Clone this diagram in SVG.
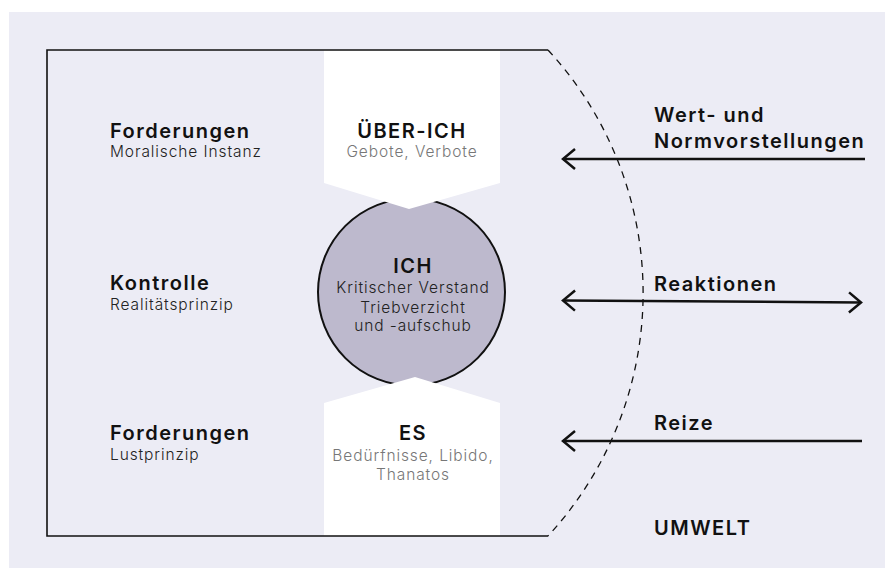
<svg xmlns="http://www.w3.org/2000/svg" width="885" height="568" viewBox="0 0 885 568">
  <style>
    .head { font-family: Inter, "Open Sans", "Liberation Sans", sans-serif; font-weight: 600; font-size: 20px; letter-spacing: 1.5px; fill: #111; }
    .sub { font-family: Inter, "Open Sans", "Liberation Sans", sans-serif; font-weight: 300; font-size: 15.5px; letter-spacing: 0.9px; fill: #222; }
    .grey { fill: #777; }
    .mid { text-anchor: middle; }
    .line { fill: none; stroke: #111; stroke-width: 2.5; }
  </style>
  <defs>
    <marker id="chev" viewBox="-14 -12 16 24" markerWidth="16" markerHeight="24" refX="0" refY="0" markerUnits="userSpaceOnUse" orient="auto-start-reverse">
      <path d="M-12,-10 L0,0 L-12,10" fill="none" stroke="#111" stroke-width="2.5"/>
    </marker>
  </defs>

  <!-- backdrop -->
  <rect x="9" y="12" width="876" height="556" fill="#ECECF5"/>

  <!-- ICH: central circle -->
  <g id="ich">
    <circle cx="411.5" cy="292" r="93.5" fill="#BDB9CD" stroke="#111" stroke-width="2"/>
  </g>

  <!-- UEBER-ICH: white pennant hanging from the top -->
  <g id="ueber-ich">
    <path d="M324,50 H500 V183 L409,209 L324,183 Z" fill="#fff"/>
    <text class="head mid" x="412" y="138">ÜBER-ICH</text>
    <text class="sub grey mid" x="412" y="157">Gebote, Verbote</text>
  </g>

  <!-- ES: white block rising from the bottom -->
  <g id="es">
    <path d="M324,403 L415,377 L500,403 V536 H324 Z" fill="#fff"/>
    <text class="head mid" x="413" y="440">ES</text>
    <text class="sub grey mid" x="413" y="461">Bedürfnisse, Libido,</text>
    <text class="sub grey mid" x="413" y="480">Thanatos</text>
  </g>

  <!-- ICH labels, on top of the circle -->
  <g id="ich-text">
    <text class="head mid" x="413" y="273">ICH</text>
    <text class="sub mid" x="413" y="293">Kritischer Verstand</text>
    <text class="sub mid" x="413" y="313">Triebverzicht</text>
    <text class="sub mid" x="413" y="331">und -aufschub</text>
  </g>

  <!-- psyche boundary: solid frame plus dashed arc -->
  <g id="boundary">
    <path d="M548,50 H47 V536 H548" fill="none" stroke="#111" stroke-width="1.6"/>
    <path d="M548,50 A358,358 0 0 1 548,536" fill="none" stroke="#111" stroke-width="1.3" stroke-dasharray="7 6"/>
  </g>

  <!-- left column labels -->
  <g id="forderungen-oben">
    <text class="head" x="110" y="138">Forderungen</text>
    <text class="sub" x="110" y="157">Moralische Instanz</text>
  </g>
  <g id="kontrolle">
    <text class="head" x="110" y="290">Kontrolle</text>
    <text class="sub" x="110" y="310">Realitätsprinzip</text>
  </g>
  <g id="forderungen-unten">
    <text class="head" x="110" y="440">Forderungen</text>
    <text class="sub" x="110" y="460">Lustprinzip</text>
  </g>

  <!-- environment influences -->
  <g id="connectors">
    <line class="line" x1="865" y1="159" x2="563" y2="159" marker-end="url(#chev)"/>
    <line class="line" x1="563" y1="300.5" x2="861" y2="302.5" marker-start="url(#chev)" marker-end="url(#chev)"/>
    <line class="line" x1="862" y1="441" x2="563" y2="441" marker-end="url(#chev)"/>
  </g>

  <g id="umwelt-labels">
    <text class="head" x="654" y="122">Wert- und</text>
    <text class="head" x="654" y="148">Normvorstellungen</text>
    <text class="head" x="654" y="291">Reaktionen</text>
    <text class="head" x="654" y="430">Reize</text>
    <text class="head" x="654" y="535">UMWELT</text>
  </g>
</svg>
